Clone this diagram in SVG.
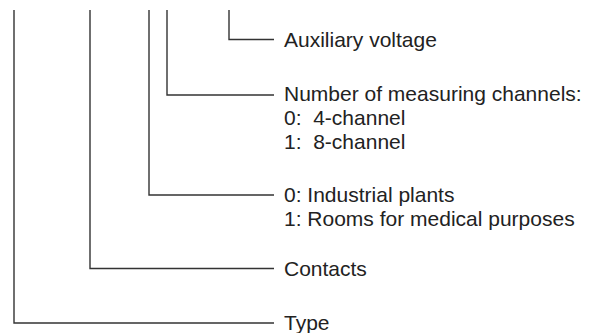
<svg xmlns="http://www.w3.org/2000/svg" width="595" height="333" viewBox="0 0 595 333">
<style>
.c{fill:none;stroke:#333;stroke-width:1.4}
.t{font-family:"Liberation Sans",Arial,sans-serif;font-size:21px;fill:#222;white-space:pre}
</style>
<rect width="595" height="333" fill="#fff"/>
<g id="connectors">
<path class="c" d="M229 10V39.5H274"/>
<path class="c" d="M167 10V95H274"/>
<path class="c" d="M149 10V195H274"/>
<path class="c" d="M90 10V268.5H274"/>
<path class="c" d="M14 10V323H274"/>
</g>
<g id="aux"><text class="t" x="284" y="47">Auxiliary voltage</text></g>
<g id="channels">
<text class="t" x="284" y="101">Number of measuring channels:</text>
<text class="t" x="284" y="125" xml:space="preserve">0:  4-channel</text>
<text class="t" x="284" y="149" xml:space="preserve">1:  8-channel</text>
</g>
<g id="usage">
<text class="t" x="284" y="202">0: Industrial plants</text>
<text class="t" x="284" y="226">1: Rooms for medical purposes</text>
</g>
<g id="contacts"><text class="t" x="284" y="276">Contacts</text></g>
<g id="type"><text class="t" x="284" y="330">Type</text></g>
</svg>
